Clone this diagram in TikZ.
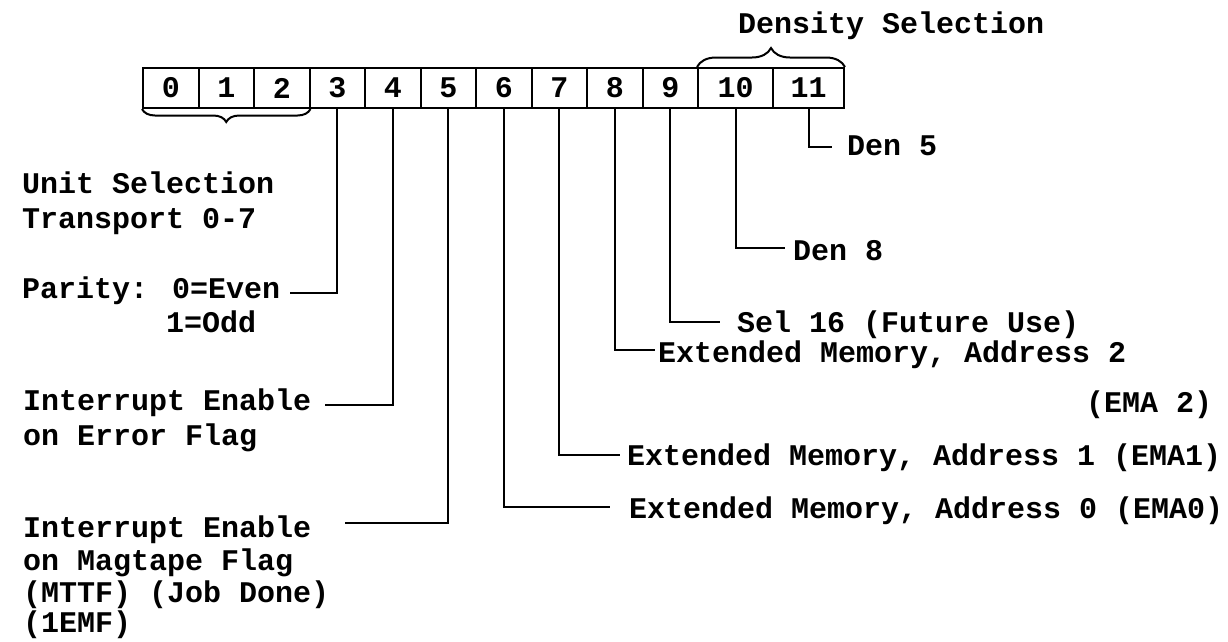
\documentclass[tikz,border=0pt]{standalone}
\usepackage{fontspec}
\setmainfont{Liberation Mono}
\usetikzlibrary{decorations.pathreplacing}
\newcommand\lblfont{\fontsize{30}{34}\selectfont\bfseries}
\begin{document}
\begin{tikzpicture}[x=1pt,y=-1pt,
  cell/.style={draw,line width=2pt,minimum height=40pt,inner sep=0pt,font=\lblfont},
  lbl/.style={anchor=base west,inner sep=0pt,font=\lblfont},
  wire/.style={line width=2pt},
  bracedeco/.style={line width=2pt,decorate,decoration={brace,amplitude=#1}}]
\useasboundingbox (0,0) rectangle (1228,641);
% register cells
\foreach \i in {0,...,9}
  \node[cell,minimum width=55.5pt] (c\i) at ({143+55.5*\i+27.75},88) {\i};
\node[cell,minimum width=75pt] (c10) at (735.5,88) {10};
\node[cell,minimum width=71pt] (c11) at (808.5,88) {11};
% braces
\draw[bracedeco=13pt] (c2.south east) -- (c0.south west);
\draw[bracedeco=19pt] (c10.north west) -- (c11.north east);
% labels right
\node[lbl] (density) at (738,33) {Density Selection};
\node[lbl] (den5) at (847,155) {Den 5};
\node[lbl] (den8) at (793,260) {Den 8};
\node[lbl] (sel16) at (737,332) {Sel 16 (Future Use)};
\node[lbl] (ema2) at (658,362) {Extended Memory, Address 2};
\node[lbl] (ema2b) at (1086,412) {(EMA 2)};
\node[lbl] (ema1) at (627,465) {Extended Memory, Address 1 (EMA1)};
\node[lbl] (ema0) at (629,518) {Extended Memory, Address 0 (EMA0)};
% labels left
\node[lbl] (unit) at (22,193) {Unit Selection};
\node[lbl] (trans) at (22,228) {Transport 0-7};
\node[lbl] (par) at (22,298) {Parity: 0=Even};
\node[lbl] (odd) at (166,332) {1=Odd};
\node[lbl] (ie1) at (23,410) {Interrupt Enable};
\node[lbl] (err) at (23,445) {on Error Flag};
\node[lbl] (ie2) at (23,537) {Interrupt Enable};
\node[lbl] (mag) at (23,570) {on Magtape Flag};
\node[lbl] (mttf) at (23,602) {(MTTF) (Job Done)};
\node[lbl] (emf) at (23,632) {(1EMF)};
% connector ends
\coordinate (e3) at (290,293);
\coordinate (e4) at (325,405);
\coordinate (e5) at (345,523);
\coordinate (e6) at (610,507);
\coordinate (e7) at (620,455);
\coordinate (e8) at (655,350);
\coordinate (e9) at (720,322);
\coordinate (e10) at (785,248);
\coordinate (e11) at (832,147);
% connectors
\foreach \i in {3,...,11}
  \draw[wire] (c\i.south) |- (e\i);
\end{tikzpicture}
\end{document}
